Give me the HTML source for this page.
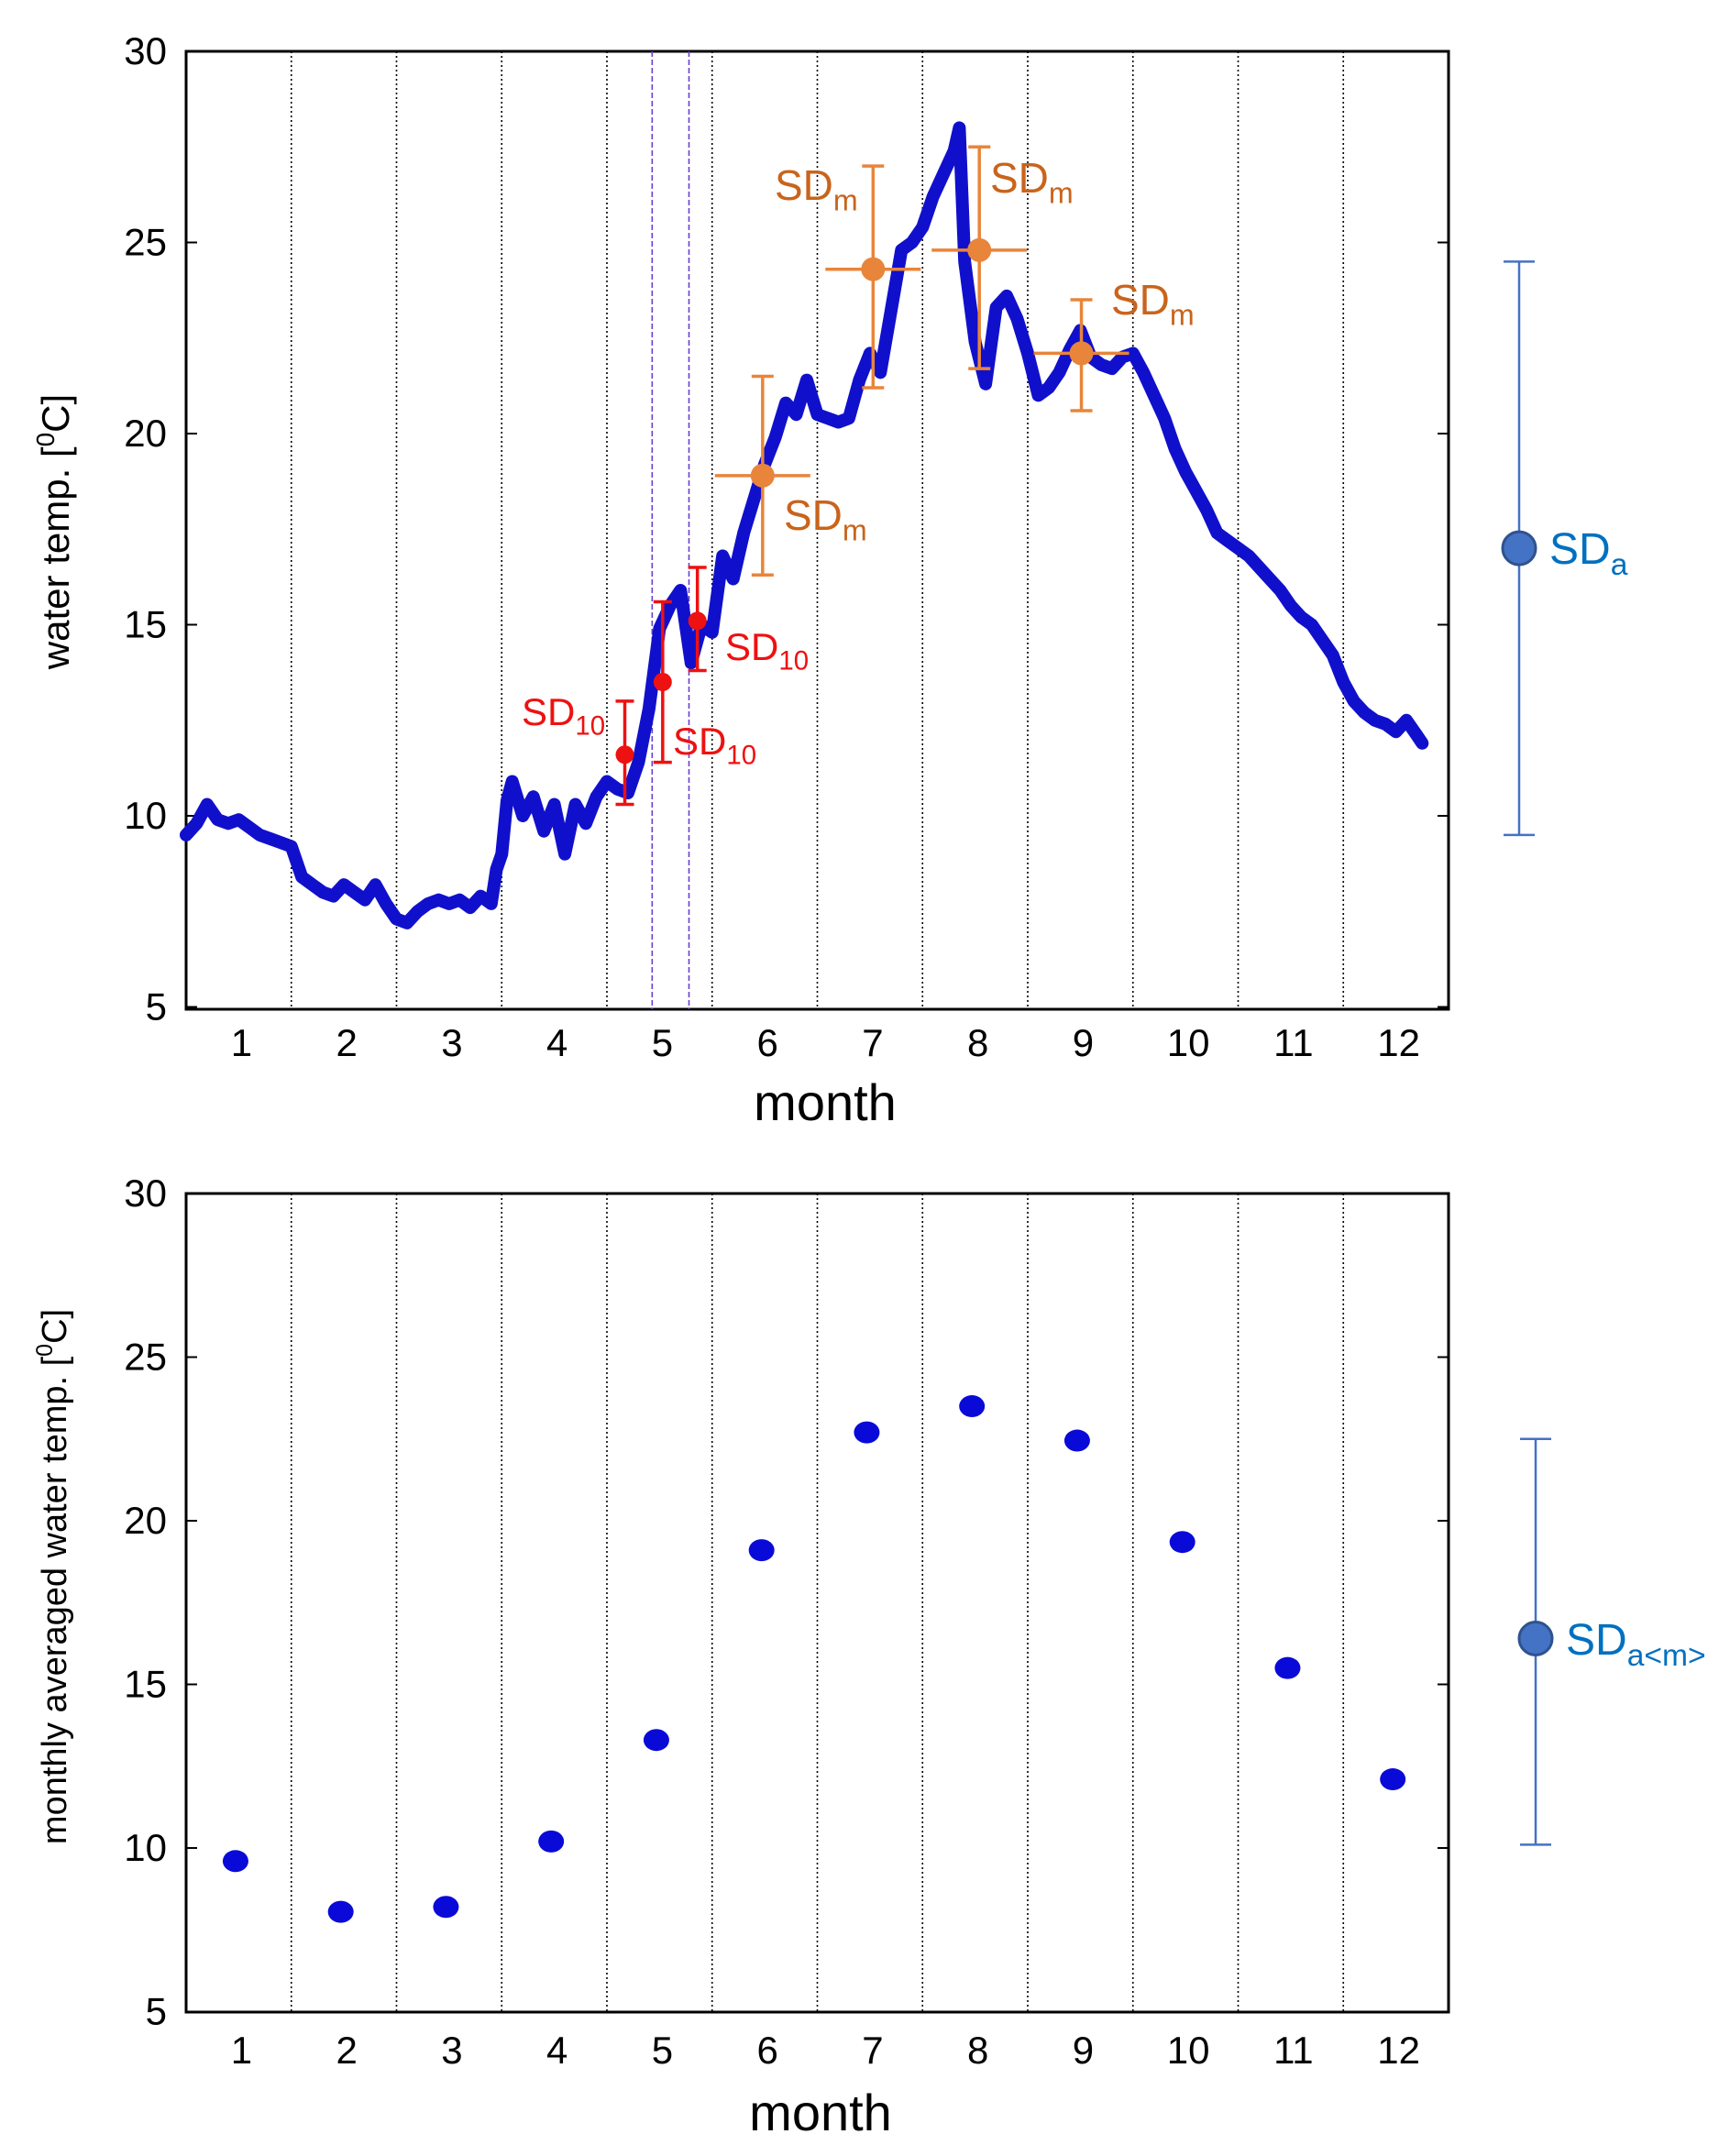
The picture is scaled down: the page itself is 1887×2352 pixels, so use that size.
<!DOCTYPE html>
<html><head><meta charset="utf-8"><style>
body{margin:0;background:#fff}
svg{display:block;font-family:"Liberation Sans",sans-serif}
</style></head><body>
<svg id="c" width="1887" height="2352" viewBox="0 0 1887 2352" xmlns="http://www.w3.org/2000/svg"></svg>
<script>
// ---- data ----
const monthLabels = ["1","2","3","4","5","6","7","8","9","10","11","12"];
const yTicks = [5,10,15,20,25,30];
const seriesTimes = [0,0.1,0.2,0.3,0.4,0.5,0.6,0.7,0.8,0.9,1.0,1.1,1.2,1.3,1.4,1.5,1.6,1.7,1.8,1.9,2.0,2.1,2.2,2.3,2.4,2.5,2.6,2.7,2.8,2.9,2.95,3.0,3.05,3.1,3.2,3.3,3.4,3.5,3.6,3.7,3.8,3.9,4.0,4.1,4.2,4.3,4.4,4.5,4.6,4.7,4.8,4.9,5.0,5.1,5.2,5.3,5.4,5.5,5.6,5.7,5.8,5.9,6.0,6.1,6.2,6.3,6.4,6.5,6.6,6.7,6.8,6.9,7.0,7.1,7.2,7.3,7.35,7.4,7.5,7.6,7.7,7.8,7.9,8.0,8.1,8.2,8.3,8.4,8.5,8.6,8.7,8.8,8.9,9.0,9.1,9.2,9.3,9.4,9.5,9.6,9.7,9.8,9.9,10.0,10.1,10.2,10.3,10.4,10.5,10.6,10.7,10.8,10.9,11.0,11.1,11.2,11.3,11.4,11.5,11.6,11.7,11.75];
const seriesTemps = [9.5,9.8,10.3,9.9,9.8,9.9,9.7,9.5,9.4,9.3,9.2,8.4,8.2,8.0,7.9,8.2,8.0,7.8,8.2,7.7,7.3,7.2,7.5,7.7,7.8,7.7,7.8,7.6,7.9,7.7,8.6,9.0,10.4,10.9,10.0,10.5,9.6,10.3,9.0,10.3,9.8,10.5,10.9,10.7,10.6,11.4,12.8,14.9,15.5,15.9,14.0,15.0,14.8,16.8,16.2,17.4,18.3,19.2,19.9,20.8,20.5,21.4,20.5,20.4,20.3,20.4,21.4,22.1,21.6,23.2,24.8,25.0,25.4,26.2,26.8,27.4,28.0,24.5,22.4,21.3,23.3,23.6,23.0,22.1,21.0,21.2,21.6,22.2,22.7,22.0,21.8,21.7,22.0,22.1,21.6,21.0,20.4,19.6,19.0,18.5,18.0,17.4,17.2,17.0,16.8,16.5,16.2,15.9,15.5,15.2,15.0,14.6,14.2,13.5,13.0,12.7,12.5,12.4,12.2,12.5,12.1,11.9];
const sdmTimes = [5.48,6.53,7.54,8.51];
const sdmValues = [18.9,24.3,24.8,22.1];
const sdmLow = [16.3,21.2,21.7,20.6];
const sdmHigh = [21.5,27.0,27.5,23.5];
const sd10Times = [4.17,4.53,4.86];
const sd10Values = [11.6,13.5,15.1];
const sd10Low = [10.3,11.4,13.8];
const sd10High = [13.0,15.6,16.5];
const sdaValue = 17.0, sdaLow = 9.5, sdaHigh = 24.5;
const monthlyMeans = [9.6,8.05,8.2,10.2,13.3,19.1,22.7,23.5,22.45,19.35,15.5,12.1];
const sdamValue = 16.4, sdamLow = 10.1, sdamHigh = 22.5;

// ---- helpers ----
const NS="http://www.w3.org/2000/svg", svg=document.getElementById('c');
function mk(tag,attrs,parent,text){const e=document.createElementNS(NS,tag);for(const k in attrs)e.setAttribute(k,attrs[k]);if(text!==undefined)e.textContent=text;(parent||svg).appendChild(e);return e;}
const L=203,R=1580;
const xT=t=>L+t*(R-L)/12;
const yTop=v=>56+(30-v)*41.7;
const yBot=v=>1302+(30-v)*35.7;

function frame(yf,top,bottom,name){
  const g=mk('g',{});
  
  
  for(let m=1;m<12;m++){const l=mk('line',{x1:xT(m),x2:xT(m),y1:top,y2:bottom,stroke:'#000','stroke-width':1.6,'stroke-dasharray':'2,3'},g);
    }
  yTicks.forEach(v=>{const y=yf(v);
    mk('line',{x1:L,x2:L+12,y1:y,y2:y,stroke:'#000','stroke-width':2},g);
    mk('line',{x1:R-12,x2:R,y1:y,y2:y,stroke:'#000','stroke-width':2},g);
    const t=mk('text',{x:182,y:y+14,'text-anchor':'end','font-size':42},g,String(v));
    });
  const r=mk('rect',{x:L,y:top,width:R-L,height:bottom-top,fill:'none',stroke:'#000','stroke-width':3},g);
  
  return g;
}
function monthTicks(y,g){monthLabels.forEach((s,i)=>{const t=mk('text',{x:xT(i+0.5)+3,y:y,'text-anchor':'middle','font-size':42},g,s);
  });}
function sdLabel(x,y,main,sub,color,size,g,name){const t=mk('text',{x:x,y:y,fill:color,'font-size':size},g);
  
  mk('tspan',{},t,main);mk('tspan',{'font-size':size*0.7,dy:size*0.25},t,sub);return t;}
function errBar(x,yv,yl,yh,col,cap,sw,g,name){const e=mk('g',{},g);
  
  mk('line',{x1:x,x2:x,y1:yl,y2:yh,stroke:col,'stroke-width':sw},e);
  mk('line',{x1:x-cap,x2:x+cap,y1:yl,y2:yl,stroke:col,'stroke-width':sw},e);
  mk('line',{x1:x-cap,x2:x+cap,y1:yh,y2:yh,stroke:col,'stroke-width':sw},e);return e;}

// ---- top chart ----
const g1=frame(yTop,56,1101,'top-chart');
[4.43,4.78].forEach(t=>{const l=mk('line',{x1:xT(t),x2:xT(t),y1:56,y2:1101,stroke:'#6a3fd0','stroke-width':1.6,'stroke-dasharray':'6,3'},g1);
  });
let pts=seriesTimes.map((t,i)=>xT(t).toFixed(1)+','+yTop(seriesTemps[i]).toFixed(1)).join(' ');
const pl=mk('polyline',{points:pts,fill:'none',stroke:'#1010cc','stroke-width':14,'stroke-linejoin':'round','stroke-linecap':'round'},g1);

monthTicks(1152,g1);
const mx=mk('text',{x:900,y:1222,'text-anchor':'middle','font-size':56},g1,'month');

const yt=mk('text',{transform:'translate(75,580) rotate(-90)','text-anchor':'middle','font-size':42},g1);

mk('tspan',{},yt,'water temp. [');mk('tspan',{'font-size':28,dy:-16},yt,'0');mk('tspan',{dy:16},yt,'C]');

const orange='#e8853a';
sdmTimes.forEach((t,i)=>{const x=xT(t);
  errBar(x,0,yTop(sdmLow[i]),yTop(sdmHigh[i]),orange,12,3.5,g1,'sdm-error-bar');
  const h=mk('line',{x1:x-52,x2:x+52,y1:yTop(sdmValues[i]),y2:yTop(sdmValues[i]),stroke:orange,'stroke-width':3.5},g1);
  
  const c=mk('circle',{cx:x,cy:yTop(sdmValues[i]),r:13,fill:orange},g1);
  });
const brown='#c9641c';
[[845,218],[1080,210],[1212,343],[855,578]].forEach(p=>sdLabel(p[0],p[1],'SD','m',brown,46,g1,'sdm-label'));
sd10Times.forEach((t,i)=>{const x=xT(t);
  errBar(x,0,yTop(sd10Low[i]),yTop(sd10High[i]),'#ee1111',10,3.5,g1,'sd10-error-bar');
  const c=mk('circle',{cx:x,cy:yTop(sd10Values[i]),r:10,fill:'#ee1111'},g1);
  });
[[569,791],[734,823],[791,720]].forEach(p=>sdLabel(p[0],p[1],'SD','10','#ee1111',42,g1,'sd10-label'));
const sx=1657;
errBar(sx,0,yTop(sdaLow),yTop(sdaHigh),'#4472c4',17,2.5,g1,'sda-error-bar');
const sc=mk('circle',{cx:sx,cy:yTop(sdaValue),r:18,fill:'#4472c4',stroke:'#2f528f','stroke-width':3},g1);

sdLabel(1690,615,'SD','a','#0070c0',48,g1,'sda-label');

// ---- bottom chart ----
const g2=frame(yBot,1302,2195,'bottom-chart');
monthTicks(2251,g2);
const mx2=mk('text',{x:895,y:2324,'text-anchor':'middle','font-size':56},g2,'month');

const yt2=mk('text',{transform:'translate(72,1720) rotate(-90)','text-anchor':'middle','font-size':38},g2);

mk('tspan',{},yt2,'monthly averaged water temp. [');mk('tspan',{'font-size':25,dy:-15},yt2,'0');mk('tspan',{dy:15},yt2,'C]');
monthlyMeans.forEach((v,i)=>{const c=mk('ellipse',{cx:xT(i+0.47),cy:yBot(v),rx:14,ry:12,fill:'#0a0ad8'},g2);
  });
const sx2=1675;
errBar(sx2,0,yBot(sdamLow),yBot(sdamHigh),'#4472c4',17,2.5,g2,'sdam-error-bar');
const sc2=mk('circle',{cx:sx2,cy:yBot(sdamValue),r:18,fill:'#4472c4',stroke:'#2f528f','stroke-width':3},g2);

sdLabel(1708,1805,'SD','a<m>','#0070c0',48,g2,'sdam-label');
</script>
</body></html>
